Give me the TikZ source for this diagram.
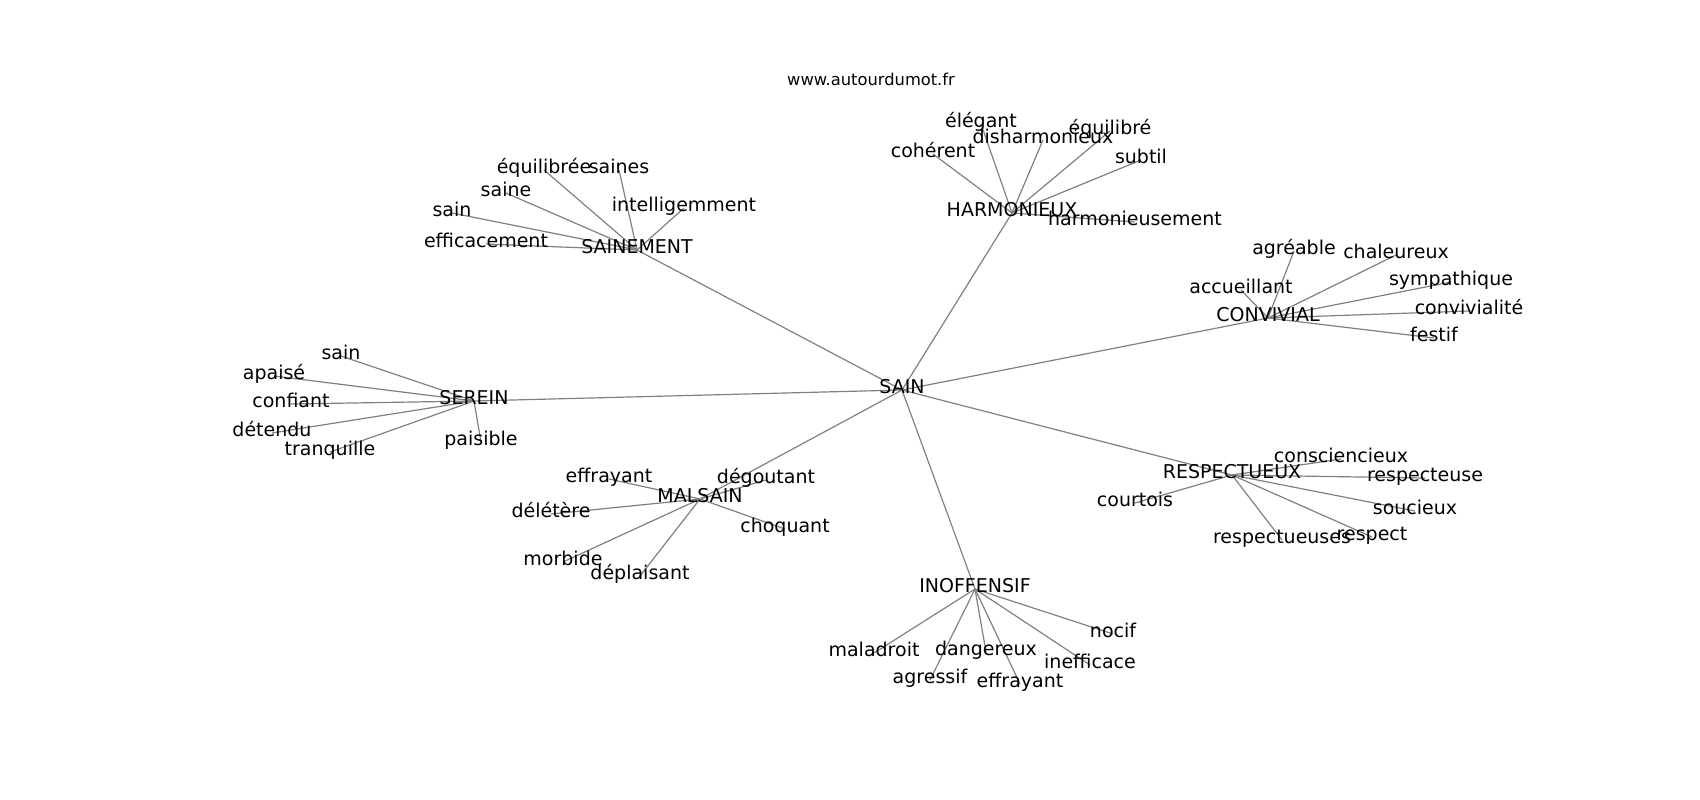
\documentclass[tikz,border=0pt]{standalone}
\usepackage{fontspec}
\setmainfont{DejaVu Sans}
\usetikzlibrary{backgrounds}
\def\link{\draw[gray,line width=1.2pt]}
\tikzset{
  word/.style={font=\fontsize{19}{23}\selectfont,inner sep=0pt,text height=0.72em,text depth=0pt},
  site/.style={font=\fontsize{16.3}{19}\selectfont,inner sep=0pt,text height=0.72em,text depth=0pt}
}

\begin{document}
\begin{tikzpicture}[x=1pt,y=-1pt]
  \useasboundingbox (0,0) rectangle (1700,800);
  \node[site] (site) at (871,82) {www.autourdumot.fr};
  % centre
  \node[word] (sain) at (902,390) {SAIN};
  % sainement
  \node[word] (sm) at (637,250) {SAINEMENT};
  \node[word] (sm1) at (544,170) {équilibrée};
  \node[word] (sm2) at (619,170) {saines};
  \node[word] (sm3) at (506,193) {saine};
  \node[word] (sm4) at (452,213) {sain};
  \node[word] (sm5) at (684,208) {intelligemment};
  \node[word] (sm6) at (486,244) {efficacement};
  % harmonieux
  \node[word] (hx) at (1012,213) {HARMONIEUX};
  \node[word] (hx1) at (981,124) {élégant};
  \node[word] (hx2) at (1043,140) {disharmonieux};
  \node[word] (hx3) at (1110,131) {équilibré};
  \node[word] (hx4) at (933,154) {cohérent};
  \node[word] (hx5) at (1141,160) {subtil};
  \node[word] (hx6) at (1135,222) {harmonieusement};
  % convivial
  \node[word] (cv) at (1268,318) {CONVIVIAL};
  \node[word] (cv1) at (1294,251) {agréable};
  \node[word] (cv2) at (1396,255) {chaleureux};
  \node[word] (cv3) at (1241,290) {accueillant};
  \node[word] (cv4) at (1451,282) {sympathique};
  \node[word] (cv5) at (1469,311) {convivialité};
  \node[word] (cv6) at (1434,338) {festif};
  % serein
  \node[word] (se) at (474,401) {SEREIN};
  \node[word] (se1) at (341,356) {sain};
  \node[word] (se2) at (274,376) {apaisé};
  \node[word] (se3) at (291,404) {confiant};
  \node[word] (se4) at (272,433) {détendu};
  \node[word] (se5) at (330,452) {tranquille};
  \node[word] (se6) at (481,442) {paisible};
  % malsain
  \node[word] (ms) at (700,499) {MALSAIN};
  \node[word] (ms1) at (609,479) {effrayant};
  \node[word] (ms2) at (766,480) {dégoutant};
  \node[word] (ms3) at (551,514) {délétère};
  \node[word] (ms4) at (785,529) {choquant};
  \node[word] (ms5) at (563,562) {morbide};
  \node[word] (ms6) at (640,576) {déplaisant};
  % inoffensif
  \node[word] (in) at (975,589) {INOFFENSIF};
  \node[word] (in1) at (1113,634) {nocif};
  \node[word] (in2) at (874,653) {maladroit};
  \node[word] (in3) at (986,652) {dangereux};
  \node[word] (in4) at (1090,665) {inefficace};
  \node[word] (in5) at (930,680) {agressif};
  \node[word] (in6) at (1020,684) {effrayant};
  % respectueux
  \node[word] (rp) at (1232,475) {RESPECTUEUX};
  \node[word] (rp1) at (1341,459) {consciencieux};
  \node[word] (rp2) at (1425,478) {respecteuse};
  \node[word] (rp3) at (1135,503) {courtois};
  \node[word] (rp4) at (1415,511) {soucieux};
  \node[word] (rp5) at (1282,540) {respectueuses};
  \node[word] (rp6) at (1372,537) {respect};
  \begin{scope}[on background layer]
    \foreach \h in {sm,hx,cv,se,ms,in,rp}{
      \link (sain.center) -- (\h.center);
      \foreach \i in {1,...,6}
        \link (\h.center) -- (\h\i.center);
    }
  \end{scope}
\end{tikzpicture}
\end{document}
